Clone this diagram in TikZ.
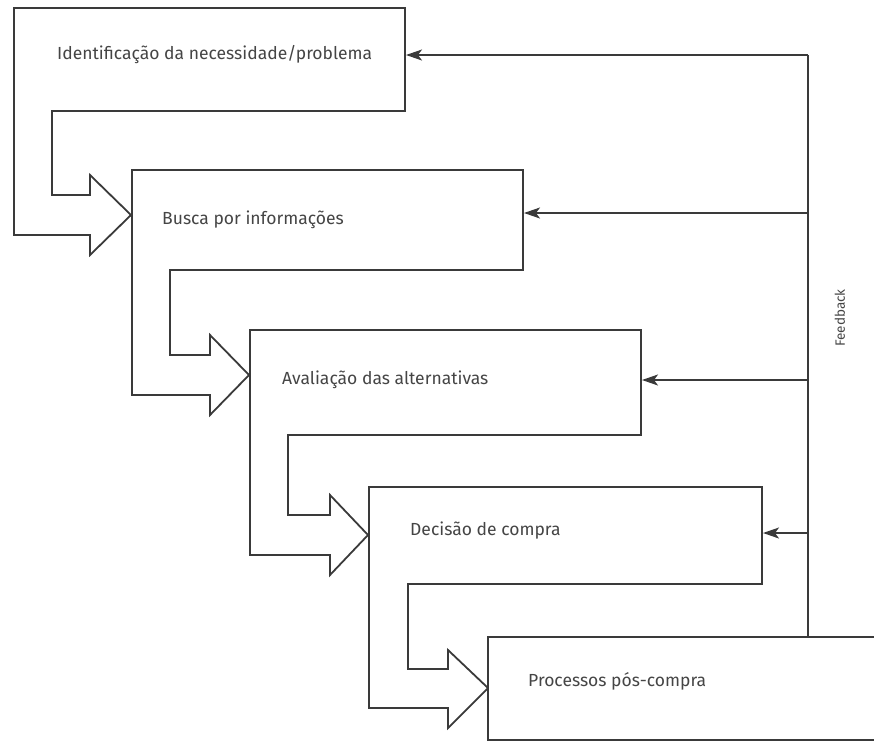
\documentclass[tikz,border=0pt]{standalone}
\usepackage{fontspec}
\setmainfont{Fira Sans}
\usetikzlibrary{arrows.meta}
\definecolor{ink}{HTML}{3A3A3A}
\definecolor{txt}{HTML}{454545}
\tikzset{
  stage/.style={draw=ink, line width=1.8pt, line join=miter, fill=white},
  lbl/.style={anchor=west, inner sep=0pt, text=txt, font=\fontsize{17.5}{21}\selectfont},
  fb/.style={draw=ink, line width=1.6pt},
  fbarrow/.style={draw=ink, line width=1.6pt, -{Stealth[length=16pt,width=11pt,inset=4pt]}}
}
\begin{document}
\begin{tikzpicture}[x=1pt,y=-1pt]
\useasboundingbox (0,0) rectangle (874,742);
\clip (0,0) rectangle (874,742);
% stage outlines with block-arrow tails
\draw[stage] (14,8) -- (405,8) -- (405,111) -- (52,111) -- (52,195) -- (90,195) -- (90,175) -- (131,215) -- (90,255) -- (90,235) -- (14,235) -- cycle;
\draw[stage] (132,170) -- (523,170) -- (523,270) -- (170,270) -- (170,355) -- (210,355) -- (210,335) -- (249,375) -- (210,415) -- (210,395) -- (132,395) -- cycle;
\draw[stage] (250,330) -- (641,330) -- (641,435) -- (288,435) -- (288,515) -- (330,515) -- (330,495) -- (368,535) -- (330,575) -- (330,555) -- (250,555) -- cycle;
\draw[stage] (369,487) -- (762,487) -- (762,584) -- (408,584) -- (408,669) -- (448,669) -- (448,650) -- (488,688) -- (448,728) -- (448,708) -- (369,708) -- cycle;
\draw[stage] (488,637) -- (900,637) -- (900,740) -- (488,740) -- cycle;
% labels
\node[lbl] (t1) at (57,55) {Identificação da necessidade/problema};
\node[lbl] (t2) at (162,220) {Busca por informações};
\node[lbl] (t3) at (282,380) {Avaliação das alternativas};
\node[lbl] (t4) at (410,531) {Decisão de compra};
\node[lbl] (t5) at (528,681) {Processos pós-compra};
% feedback
\coordinate (ftop) at (808,55);
\coordinate (fbot) at (808,637);
\coordinate (f2) at (808,213);
\coordinate (f3) at (808,380);
\coordinate (f4) at (808,533);
\coordinate (e1) at (406,55);
\coordinate (e2) at (524,213);
\coordinate (e3) at (642,380);
\coordinate (e4) at (763,533);
\draw[fb] (ftop) -- (fbot);
\draw[fbarrow] (ftop) -- (e1);
\draw[fbarrow] (f2) -- (e2);
\draw[fbarrow] (f3) -- (e3);
\draw[fbarrow] (f4) -- (e4);
\node[text=txt, font=\fontsize{13.5}{16}\selectfont, rotate=90, inner sep=0pt] (fbl) at (840,318) {Feedback};
\end{tikzpicture}
\end{document}
